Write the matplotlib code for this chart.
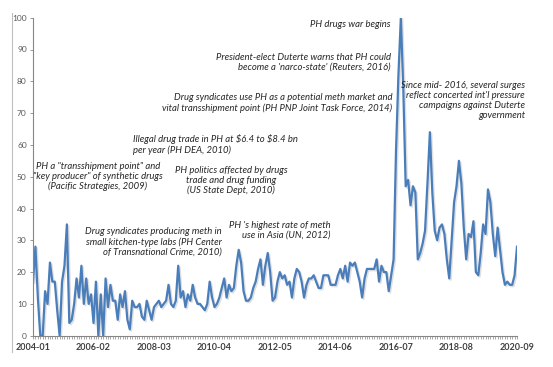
import numpy as np
import pandas as pd
import matplotlib
matplotlib.use("Agg")
import matplotlib.pyplot as plt
import matplotlib.patheffects as pe
from matplotlib.lines import Line2D

# monthly search interest, 2004-01 .. 2020-09
interest_04_07 = [17, 28, 12, 0, 0, 14, 10, 23, 17, 17,
                  8, 0, 17, 22, 35, 4, 5, 10, 18, 12,
                  22, 10, 18, 10, 13, 4, 17, 0, 13, 0,
                  18, 9, 16, 11, 11, 5, 13, 9, 14, 5]
interest_07_10 = [2, 11, 9, 9, 10, 6, 5, 11, 8, 5,
                  9, 10, 11, 9, 10, 11, 16, 10, 9, 11,
                  22, 12, 14, 9, 13, 11, 16, 12, 10, 10,
                  9, 8, 10, 17, 12, 9, 10, 12, 15, 18]
interest_10_14 = [12, 16, 14, 15, 22, 27, 23, 14, 11, 11,
                  12, 15, 17, 21, 24, 16, 22, 26, 20, 11,
                  12, 17, 20, 18, 19, 16, 17, 12, 18, 21,
                  20, 17, 12, 16, 18, 18, 19, 17, 15, 15]
interest_14_17 = [19, 19, 19, 16, 16, 16, 19, 21, 18, 22,
                  17, 23, 22, 23, 20, 17, 12, 18, 21, 21,
                  21, 21, 24, 17, 22, 20, 20, 14, 19, 24,
                  58, 82, 100, 78, 47, 49, 41, 47, 45, 24]
interest_17_20 = [26, 29, 33, 48, 64, 45, 33, 30, 34, 35,
                  32, 24, 18, 30, 42, 47, 55, 48, 34, 24,
                  32, 31, 36, 20, 19, 26, 35, 32, 46, 42,
                  32, 25, 34, 27, 20, 16, 17, 16, 16, 19,
                  28]

interest = interest_04_07 + interest_07_10 + interest_10_14 + interest_14_17 + interest_17_20
months = pd.period_range("2004-01", periods=len(interest), freq="M").strftime("%Y-%m")
label_every = 25

notes = [
    "PH drugs war begins",
    "President-elect Duterte warns that PH could\nbecome a 'narco-state' (Reuters, 2016)",
    "Drug syndicates use PH as a potential meth market and\nvital transshipment point (PH PNP Joint Task Force, 2014)",
    "Illegal drug trade in PH at \\$6.4 to \\$8.4 bn\nper year (PH DEA, 2010)",
    "PH a \"transshipment point\" and\n\"key producer\" of synthetic drugs\n(Pacific Strategies, 2009)",
    "PH politics affected by drugs\ntrade and drug funding\n(US State Dept, 2010)",
    "Drug syndicates producing meth in\nsmall kitchen-type labs (PH Center\nof Transnational Crime, 2010)",
    "PH 's highest rate of meth\nuse in Asia (UN, 2012)",
    "Since mid- 2016, several surges\nreflect concerted int'l pressure\ncampaigns against Duterte\ngovernment",
]

W, H = 553, 367
plt.rcParams["font.family"] = ["Lato", "DejaVu Sans"]
fig = plt.figure(figsize=(W / 100, H / 100), dpi=100)
ax = fig.add_axes([33 / W, 1 - 335.7 / H, 484 / W, 318 / H])

x = np.arange(len(interest))
ax.plot(x, interest, color="#4A7EBB", lw=1.6, solid_joinstyle="round",
        path_effects=[pe.SimpleLineShadow(offset=(1.0, -1.0), shadow_color="#808080", alpha=0.25),
                      pe.Normal()])

ax.set_xlim(0, len(interest) - 1)
ax.set_ylim(0, 100)
ax.set_yticks(range(0, 101, 10))
ax.set_xticks(x[::label_every])
ax.set_xticklabels(months[::label_every])
ax.set_xticks(x, minor=True)

for s in ["top", "right"]:
    ax.spines[s].set_visible(False)
for s in ["left", "bottom"]:
    ax.spines[s].set_color("#868686")
    ax.spines[s].set_linewidth(0.8)

ax.tick_params(axis="y", length=2.5, width=0.6, color="#868686", labelsize=6, labelcolor="#595959", pad=2)
ax.tick_params(axis="x", which="both", length=2.2, width=0.5, color="#868686")
ax.tick_params(axis="x", which="major", labelsize=6.5, labelcolor="#404040", pad=3)
for t in ax.get_xticklabels():
    t.set_fontweight("bold")


def note(text, px, py, ha):
    # px, py: anchor in pixels, py is the middle of the first line
    fig.text(px / W, 1 - (py - 5) / H, text, ha=ha, va="top", multialignment=ha,
             fontsize=6.8, style="italic", color="#262626", linespacing=1.13)


note(notes[0], 390, 25, "right")
note(notes[1], 391, 58, "right")
note(notes[2], 392, 98, "right")
note(notes[3], 133, 139, "left")
note(notes[4], 98, 167, "center")
note(notes[5], 231, 171, "center")
note(notes[6], 222, 232, "right")
note(notes[7], 331, 226, "right")
note(notes[8], 525, 86, "right")

fig.add_artist(Line2D([12 / W, 12 / W], [1 - 13 / H, 1 - 352 / H], color="#BFBFBF", lw=0.8))

fig.savefig("out.png", dpi=100)
